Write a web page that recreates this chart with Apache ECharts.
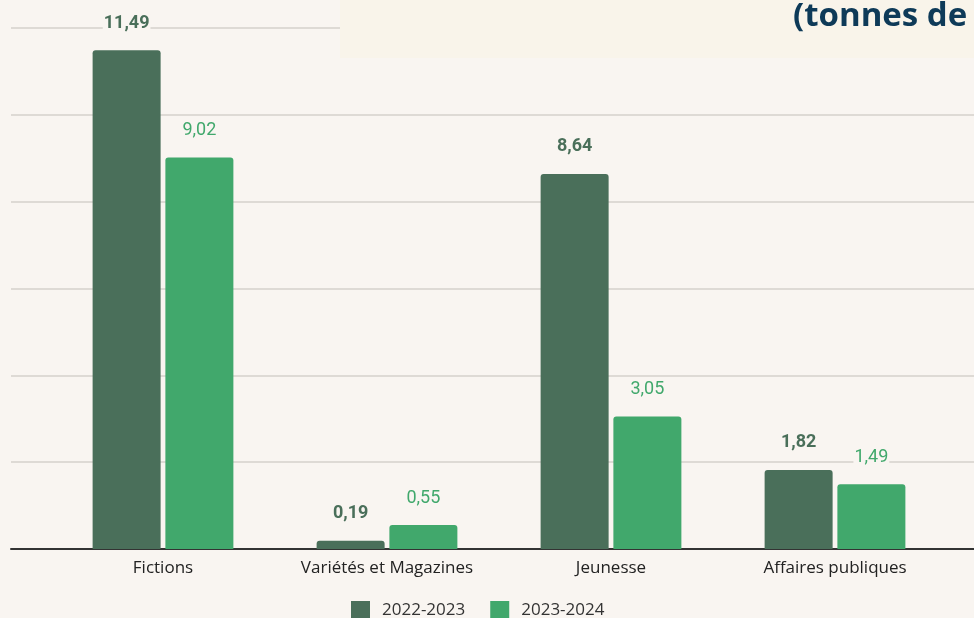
<!DOCTYPE html>
<html>
<head>
<meta charset="utf-8">
<script src="https://cdn.jsdelivr.net/npm/echarts@6/dist/echarts.min.js"></script>
<style>
  html, body { margin: 0; padding: 0; background: #f9f5f1; }
  #chart { width: 974px; height: 618px; }
</style>
</head>
<body>
<div id="chart"></div>
<script>
"use strict";

var categories = ['Fictions', 'Variétés et Magazines', 'Jeunesse', 'Affaires publiques'];
var values2223 = [11.49, 0.19, 8.64, 1.82];
var values2324 = [9.02, 0.55, 3.05, 1.49];
var seriesNames = ['2022-2023', '2023-2024'];

var DARK = '#4a6f5a';
var GREEN = '#41a86c';
var BG = '#f9f5f1';

function frNum(p) {
    return p.value.toFixed(2).replace('.', ',');
}

var chart = echarts.init(document.getElementById('chart'));

var option = {
    backgroundColor: BG,
    animation: false,
    textStyle: { fontFamily: 'Roboto' },
    grid: [
        { left: 51, right: 27, top: 28, bottom: 69 },
        { left: 11, right: 0, top: 28, bottom: 69 }
    ],
    xAxis: [{
        type: 'category',
        gridIndex: 0,
        data: categories,
        axisLine: { show: false },
        axisTick: { show: false },
        axisLabel: { color: '#222', fontSize: 17, fontFamily: 'Open Sans', margin: 11 }
    }, {
        type: 'category',
        gridIndex: 1,
        data: [''],
        axisLine: { show: true, lineStyle: { color: '#333', width: 2 } },
        axisTick: { show: false },
        axisLabel: { show: false }
    }],
    yAxis: [{
        type: 'value',
        gridIndex: 0,
        min: 0, max: 12, interval: 2,
        axisLabel: { show: false },
        axisLine: { show: false },
        axisTick: { show: false },
        splitLine: { show: false }
    }, {
        type: 'value',
        gridIndex: 1,
        min: 0, max: 12, interval: 2,
        axisLabel: { show: false },
        axisLine: { show: false },
        axisTick: { show: false },
        splitLine: { show: true, lineStyle: { color: '#d4d0cb', width: 1.5 } }
    }],
    legend: {
        data: seriesNames,
        top: 601,
        left: 351,
        padding: 0,
        icon: 'rect',
        itemWidth: 19,
        itemHeight: 19,
        itemGap: 25,
        textStyle: { color: '#333', fontSize: 17, fontFamily: 'Open Sans', padding: [0, 0, 0, 7] }
    },
    graphic: [{
        type: 'rect',
        left: 340, top: 0,
        shape: { width: 640, height: 58 },
        style: { fill: '#f9f4ea' },
        z: 5
    }, {
        type: 'text',
        x: 793, y: 17,
        style: {
            text: '(tonnes de CO2e)',
            fill: '#0e3a58',
            font: 'bold 33px "Open Sans"',
            verticalAlign: 'middle'
        },
        z: 6
    }],
    series: [{
        name: seriesNames[0],
        type: 'bar',
        xAxisIndex: 0, yAxisIndex: 0,
        data: values2223,
        barWidth: 68,
        barGap: '7%',
        itemStyle: { color: DARK, borderRadius: [3, 3, 0, 0] },
        label: {
            show: true, position: 'top', distance: 18,
            formatter: frNum,
            color: DARK, fontSize: 18, fontWeight: 'bold',
            backgroundColor: BG, padding: [0, 1]
        },
        z: 10
    }, {
        name: seriesNames[1],
        type: 'bar',
        xAxisIndex: 0, yAxisIndex: 0,
        data: values2324,
        barWidth: 68,
        itemStyle: { color: GREEN, borderRadius: [3, 3, 0, 0] },
        label: {
            show: true, position: 'top', distance: 18,
            formatter: frNum,
            color: GREEN, fontSize: 18,
            backgroundColor: BG, padding: [0, 1]
        },
        z: 10
    }]
};

chart.setOption(option);
</script>
</body>
</html>
